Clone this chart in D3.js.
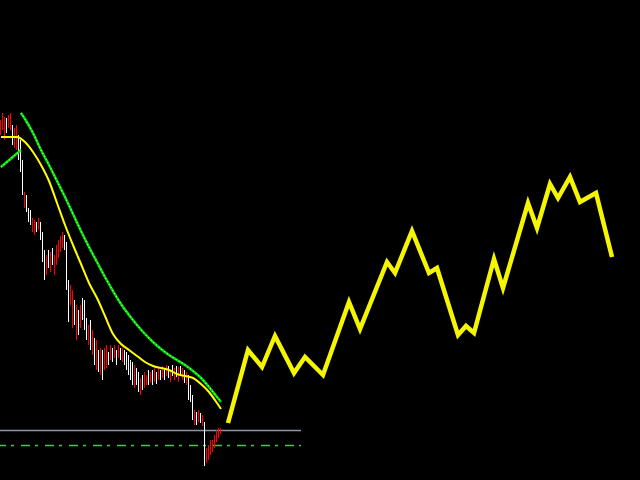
<!DOCTYPE html>
<html>
<head>
<meta charset="utf-8">
<script src="https://cdn.jsdelivr.net/npm/d3@7"></script>
<style>
html,body{margin:0;padding:0;background:#000;overflow:hidden;}
svg{display:block;}
</style>
</head>
<body>
<svg id="chart" width="640" height="480"></svg>
<script>
// ---- data (price units) ----
const barHighs = [
  360,367,363,362,365,367,355,352,355,345,
  340,320,288,285,272,270,262,260,258,262,
  258,248,230,225,230,228,232,225,235,240,
  244,248,245,238,200,195,190,180,175,170,
  175,182,180,162,155,160,150,142,140,130,
  132,130,132,135,128,135,132,135,130,135,
  132,132,130,128,125,120,118,115,112,108,
  102,105,108,105,110,108,110,112,108,112,
  110,114,112,115,114,110,115,112,114,113,
  114,112,110,108,105,95,85,70,68,70,
  67,65,58,32,35,40,40,45,50,52,52
];
const barLows = [
  345,350,340,347,352,350,335,332,330,320,
  308,285,272,268,258,255,248,245,248,250,
  240,218,200,205,212,208,215,205,215,222,
  228,232,230,190,158,175,152,155,140,145,
  152,160,150,140,135,130,125,115,110,108,
  105,100,110,112,115,120,118,122,115,122,
  120,118,115,110,105,100,95,92,95,88,
  85,90,92,95,95,97,95,98,96,100,
  100,102,100,104,102,98,104,100,103,98,
  104,100,97,95,80,78,60,55,55,58,
  57,54,14,17,20,25,28,32,38,42,46
];
// 1 = rising bar, 0 = falling bar
const barUp = [
  1,1,1,0,1,1,0,1,1,0,
  0,0,1,0,0,0,1,1,0,1,
  0,0,0,1,0,1,0,1,1,1,
  1,1,0,0,0,1,1,0,1,0,
  1,0,0,0,1,0,1,0,1,0,
  1,0,1,1,0,1,0,1,0,1,
  0,1,0,0,0,0,0,1,0,0,
  1,0,1,1,0,1,0,1,0,1,
  0,1,0,1,0,1,0,1,0,1,
  0,1,0,1,0,0,0,1,0,1,
  0,1,0,1,1,1,1,1,1,1,1
];

// fast moving average (yellow)
const fastBars = [0,4,8,12,16,20,24,28,32,36,40,44,48,52,56,60,64,68,72,76,80,84,88,92,96,100,104,108,110];
const fastMA   = [343,343,343,338,328,315,299,277,255,235,216,197,182,164,146,136,130,124,118,114,112,110,106,104,102,96,88,77,71];

// slow moving average (green)
const slowBars = [10,12,16,20,24,28,32,36,40,44,48,52,56,60,64,68,72,76,80,84,88,92,96,100,104,108,110];
const slowMA   = [367,361,347,330,315,299,283,266,249,233,218,203,189,176,165,155,146,138,131,125,120,115,109,102,93,83,78];
const slowTailBars = [0,10];
const slowTail     = [313,330];

// projected path (yellow zigzag)
const projBars  = [113.5,123.5,130.5,137,146.5,152,161,174,179.5,193,197,205.5,214,218,228.5,232.5,236.5,246.5,251,263.5,268,274.5,278.5,284.5,289.5,297.5,305.5];
const projPrice = [57,130,113,144,107,123,105,178,151,218,207,249,207,212,145,154,147,221,192,277,252,296,282,303,278,287,223];

// horizontal levels
const levelPrices = [50, 35];
const levelEndBar = 150;

// ---- drawing ----
const svg = d3.select("#chart");
const W = 640, H = 480;
svg.append("rect").attr("width", W).attr("height", H).attr("fill", "#000");

const x = d3.scaleLinear().domain([0, 319.5]).range([1, 640]);
const y = d3.scaleLinear().domain([0, 480]).range([480, 0]);

// levels
svg.append("line")
  .attr("x1", 0).attr("x2", x(levelEndBar))
  .attr("y1", Math.round(y(levelPrices[0])) + 0.5).attr("y2", Math.round(y(levelPrices[0])) + 0.5)
  .attr("stroke", "#8a96a8").attr("stroke-width", 1.5);
svg.append("line")
  .attr("x1", 0).attr("x2", x(levelEndBar))
  .attr("y1", Math.round(y(levelPrices[1])) + 0.5).attr("y2", Math.round(y(levelPrices[1])) + 0.5)
  .attr("stroke", "#4cc44c").attr("stroke-width", 1.5)
  .attr("stroke-dasharray", "9,5,3,7").attr("stroke-dashoffset", 3);

// bars
const bars = d3.range(barHighs.length).map(i => ({i, hi: barHighs[i], lo: barLows[i], up: barUp[i]}));
svg.append("g").selectAll("rect").data(bars).join("rect")
  .attr("x", d => Math.round(x(d.i)) - 1)
  .attr("width", 1)
  .attr("y", d => y(d.hi))
  .attr("height", d => Math.max(1, y(d.lo) - y(d.hi)))
  .attr("fill", d => d.up ? "#ff0000" : "#ffffff")
  .attr("shape-rendering", "crispEdges");

// moving averages
const lineGen = d3.line().x(d => x(d[0])).y(d => y(d[1])).curve(d3.curveMonotoneX);
const slowPts = slowBars.map((b, k) => [b, slowMA[k]]);
const tailPts = slowTailBars.map((b, k) => [b, slowTail[k]]);
[slowPts, tailPts].forEach(pts => {
  svg.append("path").attr("d", lineGen(pts)).attr("fill", "none")
    .attr("stroke", "#00e000").attr("stroke-width", 2.5);
  svg.append("path").attr("d", lineGen(pts)).attr("fill", "none")
    .attr("stroke", "#b0ffb0").attr("stroke-width", 1.2).attr("stroke-dasharray", "1,2.5");
});
const fastPts = fastBars.map((b, k) => [b, fastMA[k]]);
svg.append("path").attr("d", lineGen(fastPts)).attr("fill", "none")
  .attr("stroke", "#ffff00").attr("stroke-width", 2);

// projection
const projLine = d3.line().x(d => x(d[0])).y(d => y(d[1]));
svg.append("path")
  .attr("d", projLine(projBars.map((b, k) => [b, projPrice[k]])))
  .attr("fill", "none").attr("stroke", "#f5f500")
  .attr("stroke-width", 4.5).attr("stroke-linejoin", "miter").attr("stroke-linecap", "butt");
</script>
</body>
</html>
